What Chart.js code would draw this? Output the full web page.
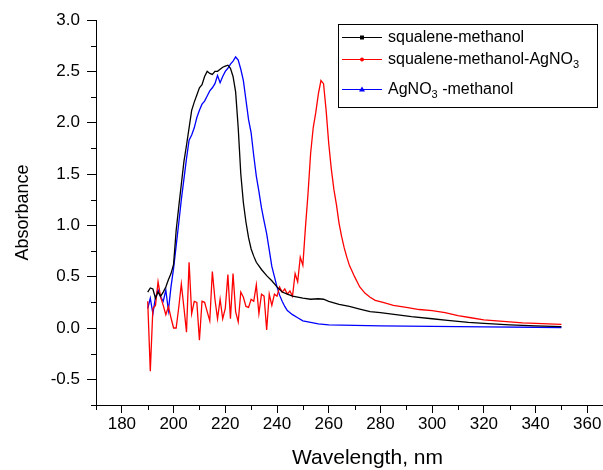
<!DOCTYPE html>
<html>
<head>
<meta charset="utf-8">
<script src="https://cdn.jsdelivr.net/npm/chart.js@4"></script>
<style>
  html, body { margin: 0; padding: 0; background: #fff; overflow: hidden; }
  #wrap { width: 650px; height: 470px; }
</style>
</head>
<body>
<div id="wrap"><canvas id="chart" width="650" height="470"></canvas></div>
<script>
// series names (_3 = subscript 3)
const seriesNames = ['squalene-methanol', 'squalene-methanol-AgNO_3', 'AgNO_3 -methanol'];
const seriesColors = ['#000000', '#ff0000', '#0000ff'];

// squalene-methanol
const blackWl = [190,191,192,193,194,195,196,197,198,199,200,201,202,203,204,205,206,207,208,209,210,211,212,213,214,215,216,217,218,219,220,221,222,223,224,225,226,227,228,229,230,231,232,234,236,238,240,242,244,246,248,250,253,256,258,260,264,268,272,276,280,286,292,300,306,314,320,330,340,350];
const blackAbs = [0.35,0.39,0.38,0.29,0.35,0.31,0.35,0.40,0.47,0.53,0.62,0.95,1.18,1.40,1.62,1.78,1.95,2.12,2.20,2.27,2.34,2.37,2.45,2.50,2.48,2.47,2.50,2.50,2.52,2.54,2.55,2.56,2.53,2.45,2.30,1.95,1.50,1.22,1.03,0.88,0.77,0.70,0.64,0.57,0.51,0.46,0.40,0.35,0.33,0.31,0.30,0.29,0.28,0.285,0.28,0.26,0.23,0.21,0.185,0.16,0.15,0.13,0.11,0.09,0.075,0.055,0.045,0.03,0.02,0.013];

// squalene-methanol-AgNO3
const redWl = [190,191,192,193,194,195,196,197,198,199,200,201,202,203,204,205,206,207,208,209,210,211,212,213,214,215,216,217,218,219,220,221,222,223,224,225,226,227,228,229,230,231,232,233,234,235,236,237,238,239,240,241,242,243,244,245,246,247,248,249,250,251,252,253,254,255,256,257,258,259,260,261,262,263,264,265,266,267,268,270,272,274,276,278,281,285,290,295,300,305,310,315,320,325,330,335,340,345,350];
const redAbs = [0.26,-0.42,0.19,0.22,0.45,0.30,0.22,0.13,0.21,0.10,0.00,0.00,0.20,0.43,0.20,-0.04,0.64,0.14,0.26,0.25,-0.12,0.26,0.25,0.16,0.07,0.55,0.28,0.09,0.28,0.09,0.19,0.52,0.09,0.53,0.16,0.06,0.35,0.30,0.21,0.20,0.28,0.26,0.42,0.14,0.33,0.31,-0.02,0.33,0.22,0.33,0.31,0.40,0.35,0.38,0.33,0.36,0.31,0.53,0.45,0.69,0.61,0.98,1.31,1.70,1.95,2.10,2.28,2.41,2.38,2.12,1.80,1.55,1.35,1.20,1.02,0.89,0.78,0.69,0.61,0.50,0.40,0.34,0.30,0.27,0.25,0.22,0.20,0.18,0.17,0.15,0.12,0.10,0.08,0.07,0.06,0.05,0.045,0.04,0.035];

// AgNO3-methanol
const blueWl = [190,191,192,193,194,195,196,197,198,199,200,201,202,203,204,205,206,207,208,209,210,211,212,213,214,215,216,217,218,219,220,221,222,223,224,225,226,227,228,229,230,231,232,233,234,235,236,237,238,239,240,241,242,243,244,246,248,250,253,256,260,270,280,300,320,350];
const blueAbs = [0.19,0.29,0.14,0.30,0.37,0.30,0.26,0.37,0.17,0.40,0.58,0.80,1.02,1.25,1.45,1.65,1.83,1.88,1.95,2.05,2.12,2.18,2.21,2.26,2.31,2.34,2.38,2.46,2.39,2.45,2.50,2.53,2.57,2.60,2.64,2.61,2.52,2.41,2.22,2.03,1.90,1.68,1.48,1.33,1.17,1.04,0.92,0.76,0.60,0.50,0.40,0.32,0.26,0.21,0.17,0.13,0.10,0.07,0.055,0.04,0.03,0.025,0.02,0.015,0.01,0.005];

// axis ticks
const xMajor = [180,200,220,240,260,280,300,320,340,360];
const xMinor = [170,190,210,230,250,270,290,310,330,350,370];
const yMajor = [-0.5,0,0.5,1,1.5,2,2.5,3];
const yMinor = [-0.75,-0.25,0.25,0.75,1.25,1.75,2.25,2.75];

const FONT = "'Liberation Sans', Arial, sans-serif";

const toPoints = (xs, ys) => xs.map((x, i) => ({ x: x, y: ys[i] }));

// minor tick marks
const minorTicks = {
  id: 'minorTicks',
  afterDraw(chart) {
    const { ctx, chartArea, scales } = chart;
    ctx.save();
    ctx.strokeStyle = '#000';
    ctx.lineWidth = 1;
    ctx.beginPath();
    xMinor.forEach(v => {
      const px = Math.round(scales.x.getPixelForValue(v)) + 0.5;
      ctx.moveTo(px, chartArea.bottom);
      ctx.lineTo(px, chartArea.bottom + 5);
    });
    yMinor.forEach(v => {
      const py = Math.round(scales.y.getPixelForValue(v)) + 0.5;
      ctx.moveTo(chartArea.left, py);
      ctx.lineTo(chartArea.left - 5, py);
    });
    ctx.stroke();
    ctx.restore();
  }
};

// boxed legend with subscripts
function drawRich(ctx, text, x, y) {
  const parts = text.split('_');
  ctx.font = '16px ' + FONT;
  ctx.fillText(parts[0], x, y);
  x += ctx.measureText(parts[0]).width;
  for (let i = 1; i < parts.length; i++) {
    const sub = parts[i][0];
    const rest = parts[i].slice(1);
    ctx.font = '11px ' + FONT;
    ctx.fillText(sub, x, y + 5);
    x += ctx.measureText(sub).width;
    ctx.font = '16px ' + FONT;
    ctx.fillText(rest, x, y);
    x += ctx.measureText(rest).width;
  }
}

const boxLegend = {
  id: 'boxLegend',
  afterDraw(chart) {
    const { ctx } = chart;
    const bx = 338.5, by = 24.5, bw = 259, bh = 83;
    const rows = [37, 59, 89];
    ctx.save();
    ctx.fillStyle = '#fff';
    ctx.fillRect(bx, by, bw, bh);
    ctx.strokeStyle = '#000';
    ctx.lineWidth = 1;
    ctx.strokeRect(bx, by, bw, bh);
    ctx.textBaseline = 'middle';
    seriesNames.forEach((name, i) => {
      const y = rows[i] + 0.5;
      ctx.strokeStyle = seriesColors[i];
      ctx.fillStyle = seriesColors[i];
      ctx.beginPath();
      ctx.moveTo(342, y);
      ctx.lineTo(382, y);
      ctx.stroke();
      ctx.beginPath();
      if (i === 0) {
        ctx.fillRect(360, y - 2, 4, 4);
      } else if (i === 1) {
        ctx.arc(362, y, 2, 0, Math.PI * 2);
        ctx.fill();
      } else {
        ctx.moveTo(362, y - 3);
        ctx.lineTo(365, y + 2);
        ctx.lineTo(359, y + 2);
        ctx.closePath();
        ctx.fill();
      }
      ctx.fillStyle = '#000';
      drawRich(ctx, name, 388, y);
    });
    ctx.restore();
  }
};

new Chart(document.getElementById('chart').getContext('2d'), {
  type: 'line',
  data: {
    datasets: [
      { label: seriesNames[0], data: toPoints(blackWl, blackAbs), borderColor: seriesColors[0], borderWidth: 1.3, pointRadius: 0, fill: false, tension: 0 },
      { label: seriesNames[1], data: toPoints(redWl, redAbs), borderColor: seriesColors[1], borderWidth: 1.3, pointRadius: 0, fill: false, tension: 0 },
      { label: seriesNames[2], data: toPoints(blueWl, blueAbs), borderColor: seriesColors[2], borderWidth: 1.3, pointRadius: 0, fill: false, tension: 0 },
    ],
  },
  options: {
    responsive: false,
    animation: false,
    layout: { padding: { top: 20, right: 11, left: 0, bottom: 0 } },
    plugins: { legend: { display: false }, tooltip: { enabled: false } },
    scales: {
      x: {
        type: 'linear',
        min: 170,
        max: 380,
        afterBuildTicks: s => { s.ticks = xMajor.map(v => ({ value: v })); },
        afterFit: s => { s.height = 65; },
        grid: { drawOnChartArea: false, drawTicks: true, tickLength: 8, color: '#000', tickColor: '#000' },
        border: { color: '#000', width: 1 },
        ticks: { color: '#000', font: { family: FONT, size: 17 }, padding: 1, maxRotation: 0, callback: v => String(v) },
        title: { display: true, text: 'Wavelength, nm', color: '#000', font: { family: FONT, size: 21, lineHeight: 1 }, padding: { top: 0, bottom: 1 } },
      },
      y: {
        type: 'linear',
        min: -0.75,
        max: 3.0,
        afterBuildTicks: s => { s.ticks = yMajor.map(v => ({ value: v })); },
        afterFit: s => { s.width = 96; },
        grid: { drawOnChartArea: false, drawTicks: true, tickLength: 9, color: '#000', tickColor: '#000' },
        border: { color: '#000', width: 1 },
        ticks: { color: '#000', font: { family: FONT, size: 17 }, padding: 7, callback: v => v.toFixed(1) },
        title: { display: true, text: 'Absorbance', color: '#000', font: { family: FONT, size: 18 }, padding: { top: 12, bottom: 0 } },
      },
    },
  },
  plugins: [minorTicks, boxLegend],
});
</script>
</body>
</html>
